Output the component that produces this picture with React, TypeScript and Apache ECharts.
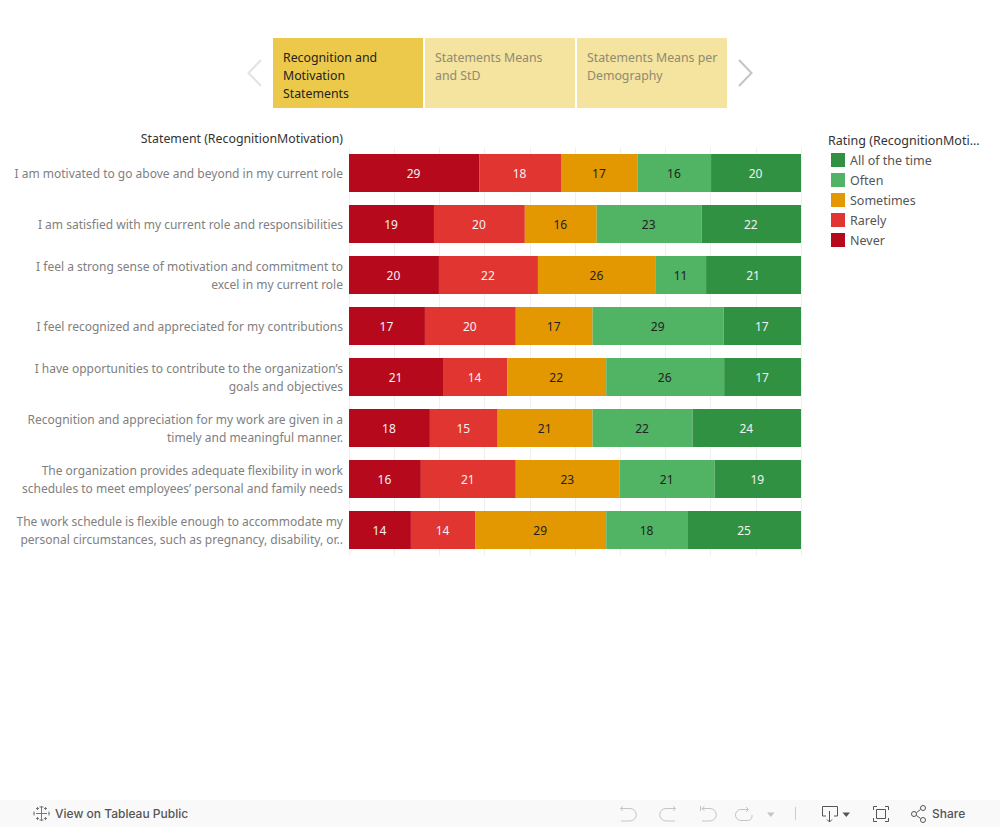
import React, { useEffect, useRef } from "react";
import * as echarts from "echarts";

const categories = [
  "I am motivated to go above and beyond in my current role",
  "I am satisfied with my current role and responsibilities",
  "I feel a strong sense of motivation and commitment to\nexcel in my current role",
  "I feel recognized and appreciated for my contributions",
  "I have opportunities to contribute to the organization’s\ngoals and objectives",
  "Recognition and appreciation for my work are given in a\ntimely and meaningful manner.",
  "The organization provides adequate flexibility in work\nschedules to meet employees’ personal and family needs",
  "The work schedule is flexible enough to accommodate my\npersonal circumstances, such as pregnancy, disability, or..",
];
const never = [28.8, 18.8, 19.9, 16.8, 20.8, 17.9, 15.9, 13.7];
const rarely = [18.1, 20.1, 21.9, 20.1, 14.2, 15.0, 21.0, 14.2];
const sometimes = [17.0, 15.9, 26.1, 17.0, 21.9, 21.0, 23.0, 29.0];
const often = [16.2, 23.2, 11.1, 29.0, 26.1, 22.1, 21.0, 18.1];
const allOfTheTime = [19.9, 22.0, 21.0, 17.1, 17.0, 24.0, 19.1, 25.0];

const legendOrder = ["All of the time", "Often", "Sometimes", "Rarely", "Never"];
const tabLines = [
  ["Recognition and", "Motivation", "Statements"],
  ["Statements Means", "and StD"],
  ["Statements Means per", "Demography"],
];

const FONT = "'Noto Sans', sans-serif";
const FOOT_FONT = "Inter, sans-serif";

const ICONS: Record<string, string> = {
  tabLogo:
    "M41.5 806V821M36 813.5H47M36 808.5H39M37.5 807V810M44 808.5H47M45.5 807V810M36 818.5H39M37.5 817V820M44 818.5H47M45.5 817V820M33.5 813.5H34.5M48.5 813.5H49.5M39.5 807H43.5M39.5 820H43.5M34 811.5V815.5M49 811.5V815.5",
  undo: "M620.5 808.5H630A6.2 6.2 0 0 1 630 821H621M623 806L620.5 808.5L623 811",
  redo: "M675.5 808.5H666A6.2 6.2 0 0 0 666 821H675M673 806L675.5 808.5L673 811",
  revert: "M700.5 806V811M702 808.5H710A6.2 6.2 0 0 1 710 821H702M704.5 806L702 808.5L704.5 811",
  refresh: "M748 809.5H741A4.5 4.5 0 0 0 741 820.5H748A4.5 4.5 0 0 0 752 815M746 807L748.5 809.5L746 812",
  download: "M826 816H822.5V806.5H837.5V816H834M829.5 811V822M827 819.5L829.5 822L832 819.5",
  fit: "M873.5 810V806.5H877M885 806.5H888.5V810M888.5 818V821.5H885M877 821.5H873.5V818M876.5 809.5H885.5V818.5H876.5Z",
  share: "M916.5 812.5L920.5 809.5M916.5 815.5L920.5 818.5M916.5 814A2.5 2.5 0 1 1 911.5 814A2.5 2.5 0 1 1 916.5 814M925.5 808A2.5 2.5 0 1 1 920.5 808A2.5 2.5 0 1 1 925.5 808M925.5 820A2.5 2.5 0 1 1 920.5 820A2.5 2.5 0 1 1 925.5 820",
};
Object.entries(ICONS).forEach(([name, d]) => {
  echarts.graphic.registerShape(name, echarts.graphic.extendPath(d as any, {}) as any);
});

function series(name: string, data: number[], color: string, labelColor: string) {
  return {
    name,
    type: "bar",
    stack: "total",
    barWidth: 38,
    data,
    itemStyle: { color },
    emphasis: { disabled: true },
    label: {
      show: true,
      position: "inside",
      offset: [-0.5, 0],
      color: labelColor,
      fontFamily: FONT,
      fontSize: 12,
      formatter: (p: any) => String(Math.round(p.value)),
    },
  };
}

function text(x: number, y: number, t: string, fill: string, extra: any = {}) {
  return {
    type: "text",
    x,
    y,
    silent: true,
    style: { text: t, fill, fontFamily: FONT, fontSize: 12.3, textVerticalAlign: "middle", ...extra },
  };
}

function icon(name: string, stroke: string) {
  return {
    type: name,
    x: 0,
    y: 0,
    silent: true,
    style: { fill: "none", stroke, lineWidth: 1 },
  };
}

export default function App() {
  const ref = useRef<HTMLDivElement>(null);
  useEffect(() => {
    document.body.style.margin = "0";
    const chart = echarts.init(ref.current!, undefined, { renderer: "svg" });
    const tabX = [273, 425, 577];
    const tabW = [150, 150, 150];
    const graphic: any[] = [];
    tabX.forEach((x, i) => {
      graphic.push({
        type: "rect",
        silent: true,
        shape: { x, y: 38, width: tabW[i], height: 70 },
        style: { fill: i === 0 ? "#ecc94b" : "#f5e3a0" },
      });
      tabLines[i].forEach((line, j) => {
        graphic.push(text(x + 10, 57 + j * 18, line, i === 0 ? "#222222" : "#8f8a72"));
      });
    });
    graphic.push(
      {
        type: "polyline",
        silent: true,
        shape: { points: [[261, 60], [248.5, 73], [261, 86]] },
        style: { fill: "none", stroke: "#e3e3e3", lineWidth: 2 },
      },
      {
        type: "polyline",
        silent: true,
        shape: { points: [[739, 60], [751.5, 73], [739, 86]] },
        style: { fill: "none", stroke: "#c4c4c4", lineWidth: 2 },
      },
      text(343, 138, "Statement (RecognitionMotivation)", "#333333", { textAlign: "right", fontSize: 12.35 }),
      text(828, 140, "Rating (RecognitionMoti...", "#333333", { fontSize: 12.5 }),
      {
        type: "rect",
        silent: true,
        shape: { x: 0, y: 800, width: 1000, height: 27 },
        style: { fill: "#f9f9f9" },
      },
      icon("tabLogo", "#777777"),
      text(55, 813.5, "View on Tableau Public", "#555555", { fontFamily: FOOT_FONT, fontWeight: 500, fontSize: 12 }),
      icon("undo", "#c4c4c4"),
      icon("redo", "#c4c4c4"),
      icon("revert", "#c4c4c4"),
      icon("refresh", "#c4c4c4"),
      {
        type: "polygon",
        silent: true,
        shape: { points: [[767, 812.5], [774.5, 812.5], [770.75, 817]] },
        style: { fill: "#c4c4c4" },
      },
      {
        type: "line",
        silent: true,
        shape: { x1: 795.5, y1: 807, x2: 795.5, y2: 820 },
        style: { stroke: "#cccccc", lineWidth: 1 },
      },
      icon("download", "#555555"),
      {
        type: "polygon",
        silent: true,
        shape: { points: [[842.5, 812.5], [850, 812.5], [846.25, 817]] },
        style: { fill: "#555555" },
      },
      icon("fit", "#555555"),
      icon("share", "#555555"),
      text(932, 813.5, "Share", "#555555", { fontFamily: FOOT_FONT, fontWeight: 500, fontSize: 12 })
    );

    chart.setOption({
      animation: false,
      tooltip: { show: false },
      grid: { left: 349, top: 147.5, width: 452, height: 408, containLabel: false },
      xAxis: {
        type: "value",
        min: 0,
        max: 100,
        interval: 10,
        axisLabel: { show: false },
        axisLine: { show: false },
        axisTick: { show: false },
        splitLine: { show: true, lineStyle: { color: "#efefef", width: 1 } },
      },
      yAxis: {
        type: "category",
        inverse: true,
        data: categories,
        axisLine: { show: false },
        axisTick: { show: false },
        splitLine: { show: false },
        axisLabel: {
          margin: 6,
          color: "#808080",
          fontFamily: FONT,
          fontSize: 12,
          lineHeight: 18,
          align: "right",
          interval: 0,
        },
      },
      legend: {
        orient: "vertical",
        left: 831,
        top: 153,
        padding: 0,
        itemWidth: 14,
        itemHeight: 14,
        itemGap: 6,
        icon: "rect",
        selectedMode: false,
        data: legendOrder,
        textStyle: { color: "#555555", fontFamily: FONT, fontSize: 12.5, padding: [0, 0, 0, 0] },
      },
      series: [
        series("Never", never, "#b60a1c", "#f2f2f2"),
        series("Rarely", rarely, "#e03531", "#f2f2f2"),
        series("Sometimes", sometimes, "#e39802", "#222222"),
        series("Often", often, "#51b364", "#222222"),
        series("All of the time", allOfTheTime, "#309143", "#f2f2f2"),
      ],
      graphic,
    });
    return () => chart.dispose();
  }, []);
  return (
    <div
      ref={ref}
      style={{ position: "absolute", left: 0, top: 0, width: 1000, height: 827, background: "#ffffff" }}
    />
  );
}
